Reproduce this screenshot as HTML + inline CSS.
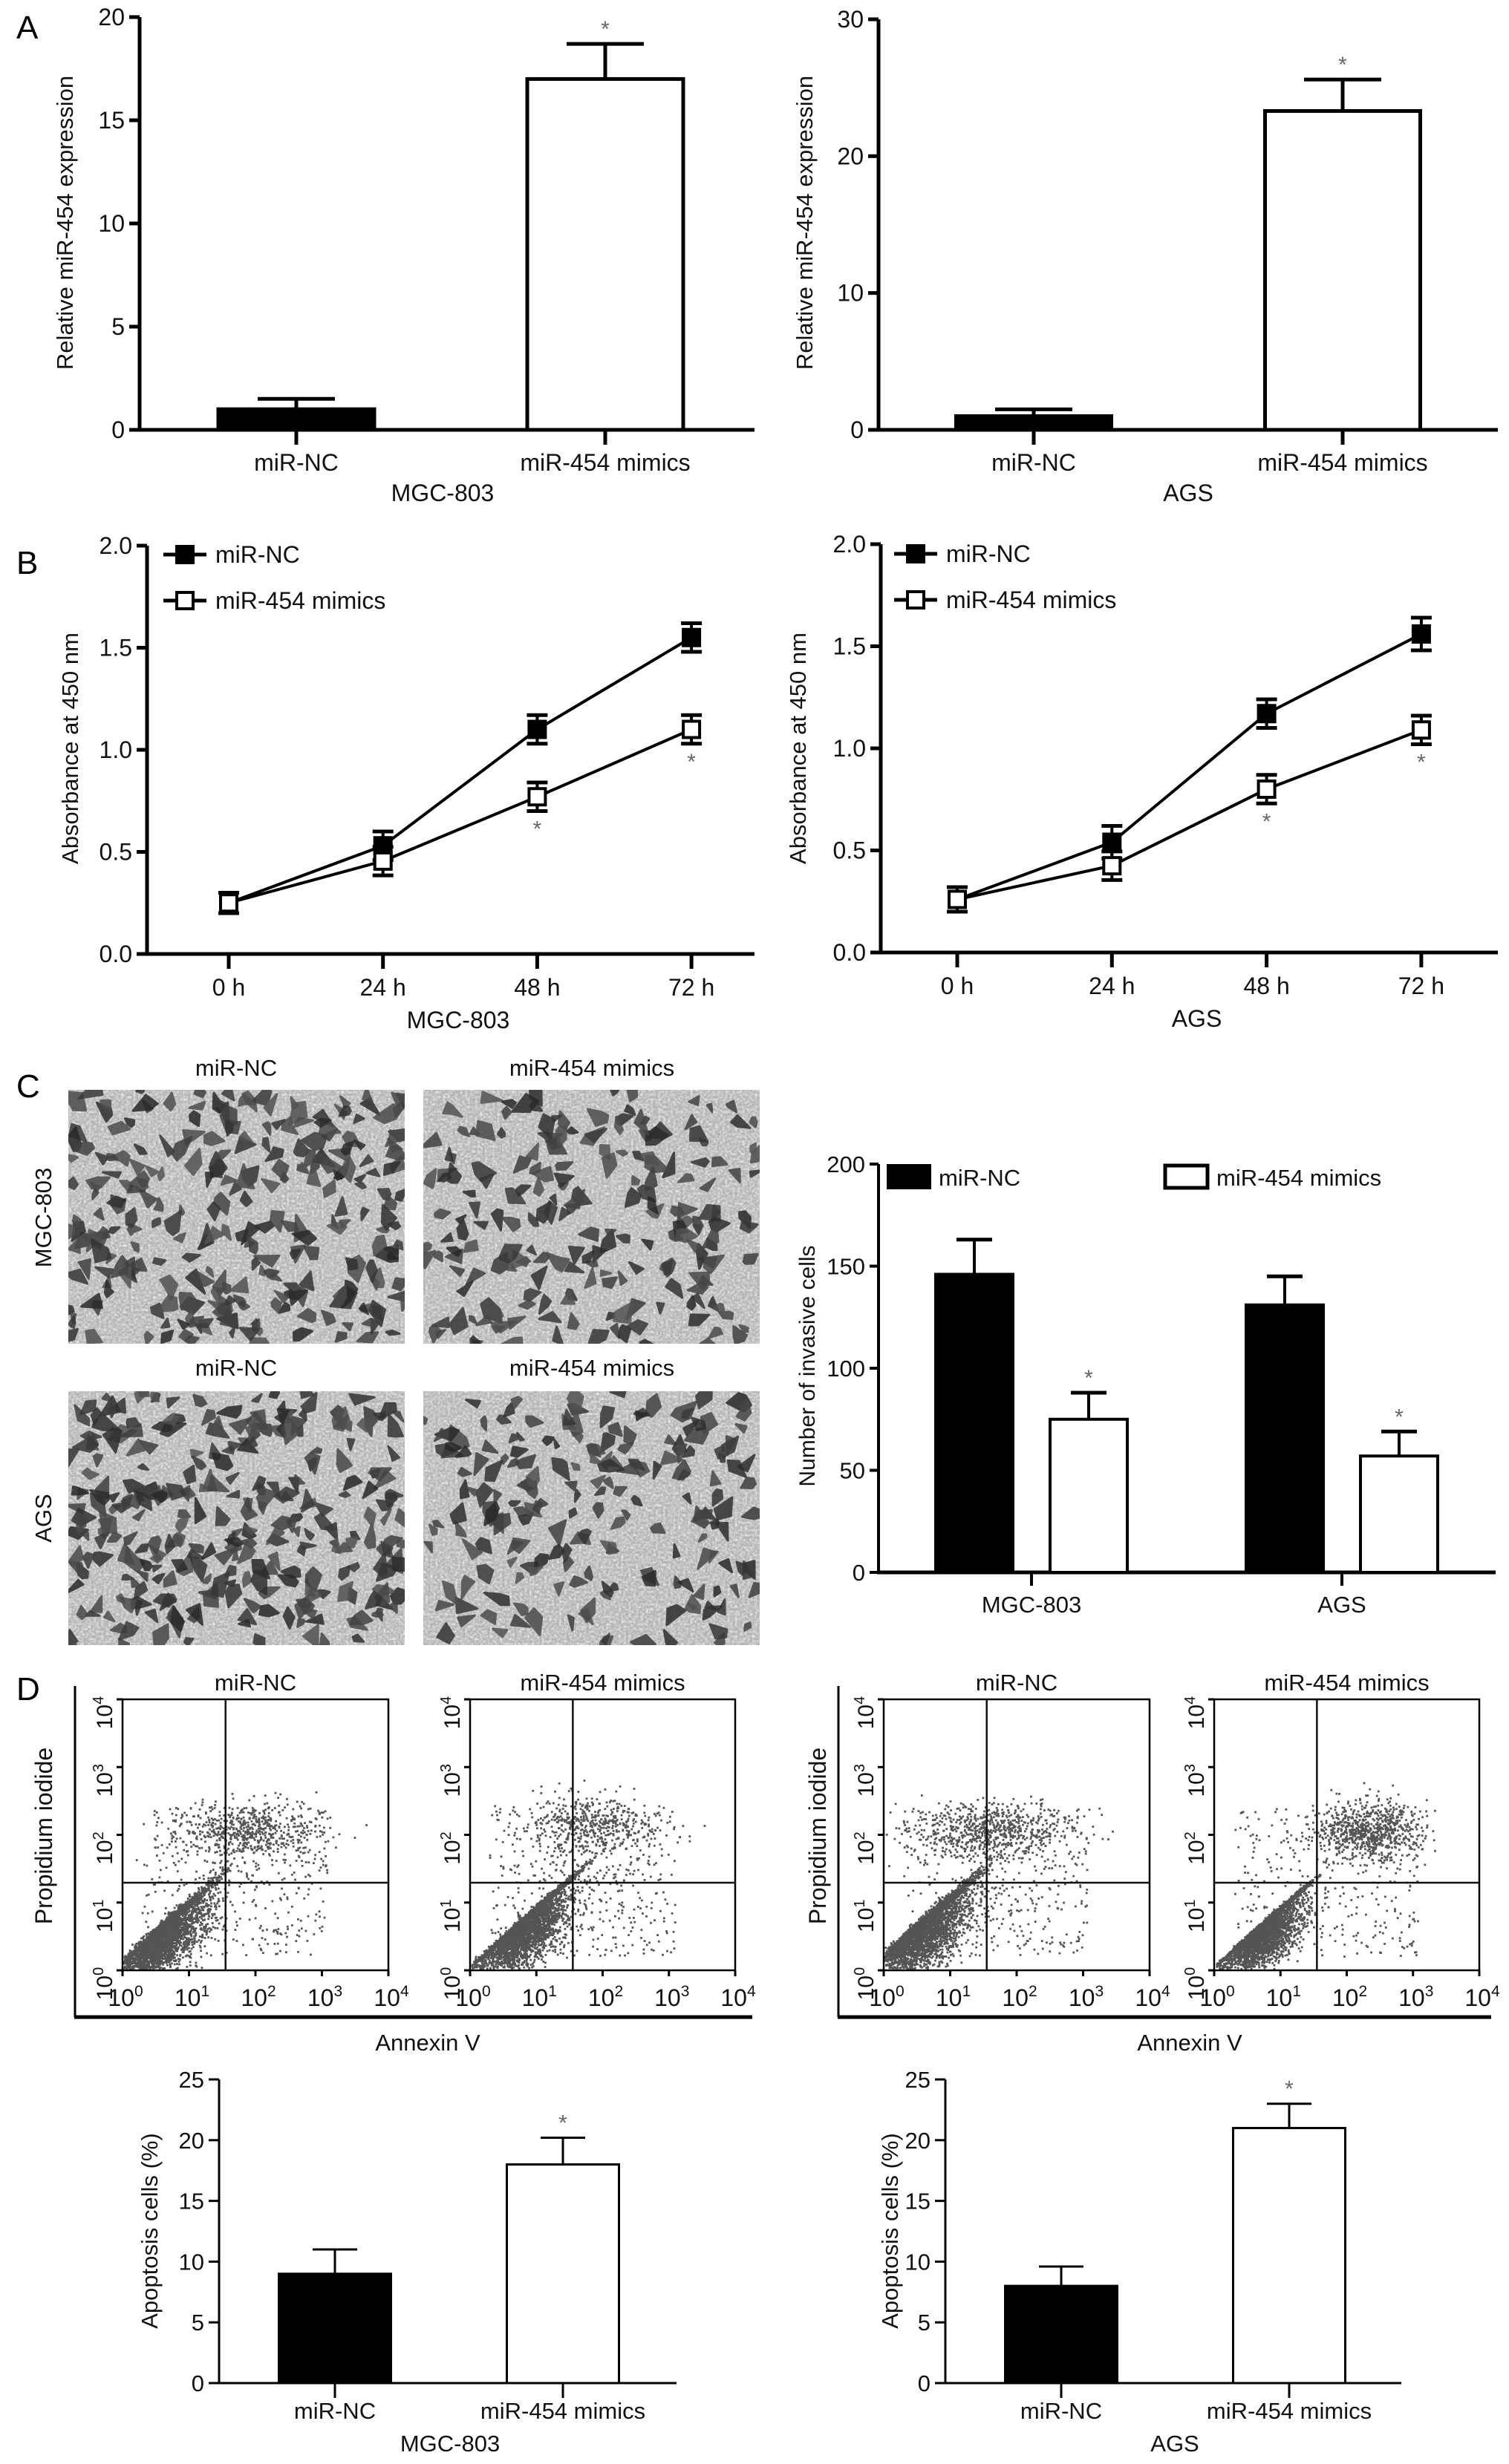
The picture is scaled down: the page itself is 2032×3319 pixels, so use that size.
<!DOCTYPE html>
<html><head><meta charset="utf-8"><style>
html,body{margin:0;padding:0;background:#fff;}
svg{display:block;font-family:"Liberation Sans",Arial,sans-serif;}
</style></head><body>
<svg id="fig" xmlns="http://www.w3.org/2000/svg" width="2032" height="3319" viewBox="0 0 2032 3319">
<defs>
<filter id="grain" x="0" y="0" width="100%" height="100%">
<feTurbulence type="fractalNoise" baseFrequency="0.3" numOctaves="2" seed="3" result="n"/>
<feColorMatrix in="n" type="matrix" values="0 0 0 0 0.9  0 0 0 0 0.9  0 0 0 0 0.9  1.2 1.2 0 0 -0.95" result="g"/>
<feComposite in="g" in2="SourceGraphic" operator="in"/>
</filter>
<clipPath id="clip0"><rect x="92" y="1468" width="453" height="342"/></clipPath>
<clipPath id="clip1"><rect x="570" y="1468" width="453" height="342"/></clipPath>
<clipPath id="clip2"><rect x="92" y="1874" width="453" height="342"/></clipPath>
<clipPath id="clip3"><rect x="570" y="1874" width="453" height="342"/></clipPath>
</defs>
<text x="22" y="52" font-size="44">A</text>
<text x="22" y="773" font-size="44">B</text>
<text x="22" y="1478" font-size="44">C</text>
<text x="22" y="2290" font-size="44">D</text>
</svg>
<script>
// ---------- DATA ----------
const aCats = ['miR-NC', 'miR-454 mimics'];
const aMGCvals = [1.0, 17.0];
const aMGCerrs = [0.5, 1.7];
const aAGSvals = [1.0, 23.3];
const aAGSerrs = [0.5, 2.3];
const aMGCticks = [0, 5, 10, 15, 20];
const aAGSticks = [0, 10, 20, 30];

const bTimes = ['0 h', '24 h', '48 h', '72 h'];
const bTicks = ['0.0', '0.5', '1.0', '1.5', '2.0'];
const bMGCnc = [0.25, 0.53, 1.10, 1.55];
const bMGCncErr = [0.05, 0.07, 0.07, 0.07];
const bMGCm = [0.25, 0.455, 0.77, 1.10];
const bMGCmErr = [0.05, 0.07, 0.07, 0.07];
const bAGSnc = [0.26, 0.54, 1.17, 1.56];
const bAGSncErr = [0.06, 0.08, 0.07, 0.08];
const bAGSm = [0.26, 0.425, 0.80, 1.09];
const bAGSmErr = [0.06, 0.07, 0.07, 0.07];

const cGroups = ['MGC-803', 'AGS'];
const cNC = [146, 131];
const cNCerr = [17, 14];
const cMim = [75, 57];
const cMimErr = [13, 12];
const cTicks = [0, 50, 100, 150, 200];

const dCats = ['miR-NC', 'miR-454 mimics'];
const dMGCvals = [9, 18];
const dMGCerrs = [2, 2.2];
const dAGSvals = [8, 21];
const dAGSerrs = [1.6, 2];
const dTicks = [0, 5, 10, 15, 20, 25];

// flow cytometry cluster parameters (log decades): [liveX, liveY, liveSD, nLive, upX, upSDx, upY, nUp, nScatter]
const flowMGCnc = [0.5, 0.5, 0.36, 4200, 1.9, 0.55, 2.05, 600, 380];
const flowMGCmim = [0.7, 0.62, 0.36, 4200, 1.85, 0.5, 2.15, 480, 460];
const flowAGSnc = [0.5, 0.58, 0.37, 4000, 1.6, 0.6, 2.05, 700, 380];
const flowAGSmim = [0.62, 0.55, 0.3, 4200, 2.35, 0.4, 2.05, 750, 340];

// ---------- HELPERS ----------
const NS = 'http://www.w3.org/2000/svg';
const svg = document.getElementById('fig');
function mk(tag, attrs, name, parent) {
  const e = document.createElementNS(NS, tag);
  for (const k in attrs) e.setAttribute(k, attrs[k]);
  
  
  (parent || svg).appendChild(e);
  return e;
}
function txt(x, y, s, size, name, extra) {
  const t = mk('text', Object.assign({x: x, y: y, 'font-size': size, 'text-anchor': 'middle', fill: '#111'}, extra || {}), name);
  t.textContent = s;
  return t;
}
function vtxt(x, cy, s, size, name) {
  const t = mk('text', {x: 0, y: 0, 'font-size': size, 'text-anchor': 'middle', fill: '#111', transform: 'translate(' + x + ',' + cy + ') rotate(-90)'}, name);
  t.textContent = s;
  return t;
}
let seed = 12345;
function rnd() { seed |= 0; seed = seed + 0x6D2B79F5 | 0; let t = Math.imul(seed ^ seed >>> 15, 1 | seed); t = t + Math.imul(t ^ t >>> 7, 61 | t) ^ t; return ((t ^ t >>> 14) >>> 0) / 4294967296; }
function gauss() { let u = rnd() || 1e-6, v = rnd(); return Math.sqrt(-2 * Math.log(u)) * Math.cos(2 * Math.PI * v); }

// ---------- BAR CHART ----------
function barChart(o) {
  const sy = v => o.y0 + (o.ytop - o.y0) * v / o.vmax;
  const sw = o.sw;
  mk('line', {x1: o.ax, y1: sy(o.vmax), x2: o.ax, y2: o.y0, stroke: '#000', 'stroke-width': sw}, o.p + '-y-axis');
  mk('line', {x1: o.ax - sw / 2, y1: o.y0, x2: o.xend, y2: o.y0, stroke: '#000', 'stroke-width': sw}, o.p + '-x-axis');
  o.ticks.forEach(t => {
    mk('line', {x1: o.ax - 14, y1: sy(t), x2: o.ax, y2: sy(t), stroke: '#000', 'stroke-width': sw}, o.p + '-y-tick');
    txt(o.ax - 20, sy(t) + 11, String(t), o.fs, o.p + '-y-tick-label', {'text-anchor': 'end'});
  });
  o.vals.forEach((v, i) => {
    const cx = o.centers[i];
    const top = sy(v), et = sy(v + o.errs[i]);
    mk('line', {x1: cx, y1: top, x2: cx, y2: et, stroke: '#000', 'stroke-width': sw}, o.p + '-error-bar');
    mk('line', {x1: cx - o.capW / 2, y1: et, x2: cx + o.capW / 2, y2: et, stroke: '#000', 'stroke-width': sw}, o.p + '-error-cap');
    mk('rect', {x: cx - o.barW / 2, y: top, width: o.barW, height: o.y0 - top, fill: o.fills[i], stroke: '#000', 'stroke-width': sw}, o.p + '-bar-' + i);
    if (o.stars[i]) txt(cx, et - 10, '*', 30, o.p + '-significance-star', {fill: '#666'});
  });
  o.tickX.forEach((x, i) => {
    mk('line', {x1: x, y1: o.y0, x2: x, y2: o.y0 + 20, stroke: '#000', 'stroke-width': sw}, o.p + '-x-tick');
    txt(x, o.catY, o.cats[i], o.fs, o.p + '-x-tick-label');
  });
  if (o.group) txt(o.groupX, o.groupY, o.group, o.fs, o.p + '-x-axis-title');
  vtxt(o.titleX, o.titleCY, o.title, o.tfs, o.p + '-y-axis-title');
}

barChart({p: 'a-mgc', ax: 188, y0: 579, ytop: 23, vmax: 20, xend: 1016, centers: [399, 815], tickX: [399, 815], barW: 210, capW: 104,
  vals: aMGCvals, errs: aMGCerrs, fills: ['#000', '#fff'], stars: [false, true], ticks: aMGCticks, cats: aCats, catY: 634, fs: 32,
  group: 'MGC-803', groupX: 596, groupY: 675, title: 'Relative miR-454 expression', titleX: 98, titleCY: 300, tfs: 31, sw: 5});
barChart({p: 'a-ags', ax: 1183, y0: 579, ytop: 26, vmax: 30, xend: 2017, centers: [1392, 1808], tickX: [1392, 1808], barW: 209, capW: 104,
  vals: aAGSvals, errs: aAGSerrs, fills: ['#000', '#fff'], stars: [false, true], ticks: aAGSticks, cats: aCats, catY: 634, fs: 32,
  group: 'AGS', groupX: 1600, groupY: 675, title: 'Relative miR-454 expression', titleX: 1094, titleCY: 300, tfs: 31, sw: 5});

// ---------- LINE CHART ----------
function lineChart(o) {
  const sy = v => o.y0 + (o.ytop - o.y0) * v / 2;
  const sx = i => o.xFirst + i * o.step;
  mk('line', {x1: o.ax, y1: sy(2), x2: o.ax, y2: o.y0, stroke: '#000', 'stroke-width': 5}, o.p + '-y-axis');
  mk('line', {x1: o.ax - 2, y1: o.y0, x2: o.xend, y2: o.y0, stroke: '#000', 'stroke-width': 5}, o.p + '-x-axis');
  bTicks.forEach(t => {
    const y = sy(parseFloat(t));
    mk('line', {x1: o.ax - 14, y1: y, x2: o.ax, y2: y, stroke: '#000', 'stroke-width': 5}, o.p + '-y-tick');
    txt(o.ax - 20, y + 11, t, 32, o.p + '-y-tick-label', {'text-anchor': 'end'});
  });
  bTimes.forEach((t, i) => {
    mk('line', {x1: sx(i), y1: o.y0, x2: sx(i), y2: o.y0 + 20, stroke: '#000', 'stroke-width': 5}, o.p + '-x-tick');
    txt(sx(i), o.y0 + 56, t, 32, o.p + '-x-tick-label');
  });
  txt((o.ax + o.xend) / 2 + 10, o.y0 + 100, o.group, 32, o.p + '-x-axis-title');
  vtxt(o.titleX, 1008, 'Absorbance at 450 nm', 31, o.p + '-y-axis-title');
  const series = [[o.nc, o.ncErr, '#000', 'nc'], [o.m, o.mErr, '#fff', 'mimics']];
  series.forEach(s => {
    const pts = s[0].map((v, i) => sx(i) + ',' + sy(v)).join(' ');
    mk('polyline', {points: pts, fill: 'none', stroke: '#000', 'stroke-width': 4}, o.p + '-line-' + s[3]);
  });
  series.forEach(s => {
    s[0].forEach((v, i) => {
      const x = sx(i), y = sy(v), e = s[1][i];
      mk('line', {x1: x, y1: sy(v - e), x2: x, y2: sy(v + e), stroke: '#000', 'stroke-width': 4}, o.p + '-error-bar');
      mk('line', {x1: x - 14, y1: sy(v + e), x2: x + 14, y2: sy(v + e), stroke: '#000', 'stroke-width': 5}, o.p + '-error-cap');
      mk('line', {x1: x - 14, y1: sy(v - e), x2: x + 14, y2: sy(v - e), stroke: '#000', 'stroke-width': 5}, o.p + '-error-cap');
      mk('rect', {x: x - 11, y: y - 11, width: 22, height: 22, fill: s[2], stroke: '#000', 'stroke-width': 4}, o.p + '-marker-' + s[3]);
    });
  });
  [2, 3].forEach(i => {
    txt(sx(i), sy(o.m[i] - o.mErr[i]) + 34, '*', 30, o.p + '-significance-star', {fill: '#666'});
  });
  [[o.legY1, '#000', 'miR-NC'], [o.legY2, '#fff', 'miR-454 mimics']].forEach(L => {
    mk('line', {x1: o.legX, y1: L[0], x2: o.legX + 58, y2: L[0], stroke: '#000', 'stroke-width': 5}, o.p + '-legend-line');
    mk('rect', {x: o.legX + 18, y: L[0] - 11, width: 22, height: 22, fill: L[1], stroke: '#000', 'stroke-width': 4}, o.p + '-legend-marker');
    txt(o.legX + 70, L[0] + 11, L[2], 32, o.p + '-legend-label', {'text-anchor': 'start'});
  });
}
lineChart({p: 'b-mgc', ax: 198, y0: 1285, ytop: 735, xFirst: 308, step: 207.7, xend: 1016, nc: bMGCnc, ncErr: bMGCncErr, m: bMGCm, mErr: bMGCmErr,
  group: 'MGC-803', titleX: 105, legX: 220, legY1: 747, legY2: 809});
lineChart({p: 'b-ags', ax: 1186, y0: 1283, ytop: 733, xFirst: 1289, step: 208.3, xend: 2017, nc: bAGSnc, ncErr: bAGSncErr, m: bAGSm, mErr: bAGSmErr,
  group: 'AGS', titleX: 1085, legX: 1204, legY1: 746, legY2: 808});

// ---------- MICROGRAPHS ----------
const micro = [[92, 1468, 270], [570, 1468, 200], [92, 1874, 290], [570, 1874, 190]];
const microNames = ['micrograph-mgc-nc', 'micrograph-mgc-mimics', 'micrograph-ags-nc', 'micrograph-ags-mimics'];
micro.forEach((m, k) => {
  const g = mk('g', {'clip-path': 'url(#clip' + k + ')'}, microNames[k]);
  mk('rect', {x: m[0], y: m[1], width: 453, height: 342, fill: '#b3b3b3'}, 'micrograph-background', g);
  mk('rect', {x: m[0], y: m[1], width: 453, height: 342, fill: '#fff', filter: 'url(#grain)'}, 'micrograph-texture', g);
  for (let i = 0; i < m[2]; i++) {
    const cx = m[0] + rnd() * 453, cy = m[1] + rnd() * 342;
    const n = 3 + Math.floor(rnd() * 3);
    const base = rnd() * 6.28, len = 6 + rnd() * 11;
    const pts = [];
    for (let j = 0; j < n; j++) {
      const a = base + j * 6.28 / n + (rnd() - 0.5) * 0.8;
      const r = (j === 0 ? len * 1.4 : len * (0.4 + rnd() * 0.5));
      pts.push((cx + r * Math.cos(a)).toFixed(1) + ',' + (cy + r * Math.sin(a)).toFixed(1));
    }
    const sh = Math.floor(40 + rnd() * 45);
    mk('polygon', {points: pts.join(' '), fill: 'rgb(' + sh + ',' + sh + ',' + sh + ')', opacity: 0.85, stroke: 'rgb(' + sh + ',' + sh + ',' + sh + ')', 'stroke-width': 3, 'stroke-linejoin': 'round'}, 'cell', g);
  }
});
txt(318, 1449, 'miR-NC', 31, 'micrograph-col-label');
txt(797, 1449, 'miR-454 mimics', 31, 'micrograph-col-label');
txt(318, 1853, 'miR-NC', 31, 'micrograph-col-label');
txt(797, 1853, 'miR-454 mimics', 31, 'micrograph-col-label');
vtxt(69, 1640, 'MGC-803', 31, 'micrograph-row-label');
vtxt(69, 2045, 'AGS', 31, 'micrograph-row-label');

// ---------- GROUPED BAR C ----------
(function () {
  const ax = 1183, y0 = 2118, ytop = 1568, vmax = 200, xend = 2014, barW = 104, off = 77;
  const gx = [1389, 1807];
  const sy = v => y0 + (ytop - y0) * v / vmax;
  mk('line', {x1: ax, y1: ytop, x2: ax, y2: y0, stroke: '#000', 'stroke-width': 4}, 'c-y-axis');
  mk('line', {x1: ax - 2, y1: y0, x2: xend, y2: y0, stroke: '#000', 'stroke-width': 5}, 'c-x-axis');
  cTicks.forEach(t => {
    mk('line', {x1: ax - 12, y1: sy(t), x2: ax, y2: sy(t), stroke: '#000', 'stroke-width': 4}, 'c-y-tick');
    txt(ax - 18, sy(t) + 11, String(t), 31, 'c-y-tick-label', {'text-anchor': 'end'});
  });
  cGroups.forEach((gname, i) => {
    [[cNC, cNCerr, '#000', -off, false], [cMim, cMimErr, '#fff', off, true]].forEach(s => {
      const cx = gx[i] + s[3], v = s[0][i], e = s[1][i];
      const top = sy(v), et = sy(v + e);
      mk('line', {x1: cx, y1: top, x2: cx, y2: et, stroke: '#000', 'stroke-width': 4}, 'c-error-bar');
      mk('line', {x1: cx - 24, y1: et, x2: cx + 24, y2: et, stroke: '#000', 'stroke-width': 5}, 'c-error-cap');
      mk('rect', {x: cx - barW / 2, y: top, width: barW, height: y0 - top, fill: s[2], stroke: '#000', 'stroke-width': 4}, 'c-bar');
      if (s[4]) txt(cx, et - 10, '*', 30, 'c-significance-star', {fill: '#666'});
    });
    mk('line', {x1: gx[i], y1: y0, x2: gx[i], y2: y0 + 18, stroke: '#000', 'stroke-width': 4}, 'c-x-tick');
    txt(gx[i], 2172, gname, 31, 'c-x-tick-label');
  });
  mk('rect', {x: 1194, y: 1568, width: 60, height: 34, fill: '#000'}, 'c-legend-swatch-nc');
  txt(1264, 1597, 'miR-NC', 31, 'c-legend-label', {'text-anchor': 'start'});
  mk('rect', {x: 1569, y: 1570, width: 57, height: 30, fill: '#fff', stroke: '#000', 'stroke-width': 5}, 'c-legend-swatch-mimics');
  txt(1638, 1597, 'miR-454 mimics', 31, 'c-legend-label', {'text-anchor': 'start'});
  vtxt(1097, 1840, 'Number of invasive cells', 30, 'c-y-axis-title');
})();

// ---------- FLOW CYTOMETRY ----------
const flowPlots = [[165, 523, flowMGCnc, 'miR-NC'], [633, 990, flowMGCmim, 'miR-454 mimics'], [1190, 1548, flowAGSnc, 'miR-NC'], [1635, 1992, flowAGSmim, 'miR-454 mimics']];
const flowNames = ['flow-mgc-nc', 'flow-mgc-mimics', 'flow-ags-nc', 'flow-ags-mimics'];
const fTop = 2289, fBot = 2654;
flowPlots.forEach((P, k) => {
  const x0 = P[0], x1 = P[1], prm = P[2];
  const g = mk('g', {}, flowNames[k]);
  const px = d => x0 + (x1 - x0) * d / 4;
  const py = d => fBot - (fBot - fTop) * d / 4;
  const dot = (dx, dy) => {
    if (dx < 0.02 || dx > 3.98 || dy < 0.02 || dy > 3.98) return;
    mk('rect', {x: px(dx) - 1.3, y: py(dy) - 1.3, width: 2.8, height: 2.8, fill: '#555'}, 'event-dot', g);
  };
  for (let i = 0; i < prm[3]; i++) {
    const a = gauss(), b = gauss();
    const dx = prm[0] + prm[2] * (a * 0.95 + Math.abs(b) * 0.4 * (k % 2 ? 1.2 : 1));
    const dy = prm[1] + prm[2] * (a * 0.8 + b * 0.5);
    dot(dx, dy);
  }
  for (let i = 0; i < prm[7]; i++) dot(prm[4] + prm[5] * gauss(), prm[6] + 0.22 * gauss());
  for (let i = 0; i < prm[8]; i++) dot(0.3 + rnd() * 2.8, 0.2 + rnd() * 2.2);
  mk('rect', {x: x0, y: fTop, width: x1 - x0, height: fBot - fTop, fill: 'none', stroke: '#000', 'stroke-width': 2.5}, 'flow-plot-frame', g);
  mk('line', {x1: x0, y1: 2536, x2: x1, y2: 2536, stroke: '#111', 'stroke-width': 2.5}, 'flow-pi-gate', g);
  const vx = px(1.55);
  mk('line', {x1: vx, y1: fTop, x2: vx, y2: fBot, stroke: '#111', 'stroke-width': 2.5}, 'flow-annexin-gate', g);
  for (let d = 0; d <= 4; d++) {
    mk('line', {x1: x0 - 8, y1: py(d), x2: x0, y2: py(d), stroke: '#000', 'stroke-width': 3}, 'flow-y-tick', g);
    mk('line', {x1: px(d), y1: fBot, x2: px(d), y2: fBot + 8, stroke: '#000', 'stroke-width': 3}, 'flow-x-tick', g);
    const yl = mk('text', {x: 0, y: 0, 'font-size': 30, 'text-anchor': 'middle', fill: '#111', transform: 'translate(' + (x0 - 14) + ',' + (py(d) + 18) + ') rotate(-90)'}, 'flow-y-tick-label', g);
    yl.textContent = '10';
    const ys = mk('tspan', {dy: -12, 'font-size': 20}, 'exponent', yl);
    ys.textContent = String(d);
    const xl = mk('text', {x: px(d) + 4, y: 2702, 'font-size': 32, 'text-anchor': 'middle', fill: '#111'}, 'flow-x-tick-label', g);
    xl.textContent = '10';
    const xs = mk('tspan', {dy: -13, 'font-size': 21}, 'exponent', xl);
    xs.textContent = String(d);
  }
  txt((x0 + x1) / 2, 2277, P[3], 31, 'flow-plot-title');
});
mk('line', {x1: 101, y1: 2271, x2: 101, y2: 2717, stroke: '#000', 'stroke-width': 3}, 'flow-frame-left');
mk('line', {x1: 100, y1: 2717, x2: 1013, y2: 2717, stroke: '#000', 'stroke-width': 5}, 'flow-frame-bottom');
mk('line', {x1: 1129, y1: 2271, x2: 1129, y2: 2717, stroke: '#000', 'stroke-width': 3}, 'flow-frame-left');
mk('line', {x1: 1128, y1: 2717, x2: 2008, y2: 2717, stroke: '#000', 'stroke-width': 5}, 'flow-frame-bottom');
txt(576, 2762, 'Annexin V', 31, 'flow-x-axis-title');
txt(1602, 2762, 'Annexin V', 31, 'flow-x-axis-title');
vtxt(70, 2473, 'Propidium iodide', 32, 'flow-y-axis-title');
vtxt(1112, 2473, 'Propidium iodide', 32, 'flow-y-axis-title');

// ---------- D BAR CHARTS ----------
barChart({p: 'd-mgc', ax: 295, y0: 3210, ytop: 2801, vmax: 25, xend: 911, centers: [451, 758], tickX: [451, 758], barW: 151, capW: 60,
  vals: dMGCvals, errs: dMGCerrs, fills: ['#000', '#fff'], stars: [false, true], ticks: dTicks, cats: dCats, catY: 3258, fs: 31,
  group: 'MGC-803', groupX: 606, groupY: 3302, title: 'Apoptosis cells (%)', titleX: 212, titleCY: 3005, tfs: 31, sw: 3});
barChart({p: 'd-ags', ax: 1273, y0: 3210, ytop: 2801, vmax: 25, xend: 1887, centers: [1429, 1736], tickX: [1429, 1736], barW: 151, capW: 60,
  vals: dAGSvals, errs: dAGSerrs, fills: ['#000', '#fff'], stars: [false, true], ticks: dTicks, cats: dCats, catY: 3258, fs: 31,
  group: 'AGS', groupX: 1582, groupY: 3302, title: 'Apoptosis cells (%)', titleX: 1209, titleCY: 3005, tfs: 31, sw: 3});
</script>
</body></html>
